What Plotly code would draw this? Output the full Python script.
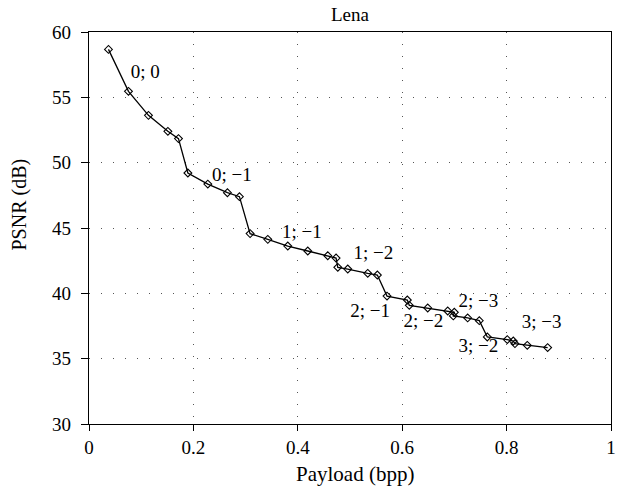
import plotly.graph_objects as go

payload = [0.0373, 0.0756, 0.1139, 0.1511, 0.1714, 0.1894, 0.2276, 0.2652, 0.2882,
           0.3086, 0.3425, 0.3808, 0.4191, 0.4574, 0.4733, 0.4766, 0.4957, 0.5340,
           0.5524, 0.5709, 0.6098, 0.6136, 0.6489, 0.6872, 0.6998, 0.6979, 0.7254,
           0.7477, 0.7630, 0.8013, 0.8128, 0.8160, 0.8396, 0.8786]
psnr = [58.67, 55.46, 53.62, 52.40, 51.84, 49.21, 48.36, 47.70, 47.40,
        44.57, 44.13, 43.62, 43.24, 42.88, 42.70, 41.99, 41.86, 41.53,
        41.40, 39.79, 39.49, 39.08, 38.88, 38.65, 38.55, 38.27, 38.12,
        37.91, 36.66, 36.46, 36.35, 36.15, 36.02, 35.85]

label_text = ["0; 0", "0; \u22121", "1; \u22121", "1; \u22122",
              "2; \u22121", "2; \u22122", "2; \u22123", "3; \u22122", "3; \u22123"]
label_x = [0.1076, 0.2736, 0.4076, 0.5447, 0.5384, 0.6405, 0.7458, 0.7458, 0.8671]
label_y = [56.81, 48.97, 44.57, 42.98, 38.57, 37.80, 39.29, 35.89, 37.68]

x_ticks = [0, 0.2, 0.4, 0.6, 0.8, 1]
x_tick_labels = ["0", "0.2", "0.4", "0.6", "0.8", "1"]
y_ticks = [30, 35, 40, 45, 50, 55, 60]

FONT = "Liberation Serif"
W, H = 632, 494
L, R, T, B = 89, 21, 32, 70
pw, ph = W - L - R, H - T - B

fig = go.Figure()
fig.add_trace(go.Scatter(
    x=payload, y=psnr, mode="lines+markers",
    line=dict(color="black", width=1.3),
    marker=dict(symbol="diamond-open", size=6, color="black", line=dict(width=1.1, color="black")),
    showlegend=False,
))
fig.add_trace(go.Scatter(
    x=label_x, y=label_y, mode="text", text=label_text,
    textfont=dict(family=FONT, size=19, color="black"),
    showlegend=False, hoverinfo="skip",
))

def px_x(p):
    return (p - L) / pw

def px_y(p):
    return (H - B - p) / ph

fig.update_layout(
    width=W, height=H,
    margin=dict(l=L, r=R, t=T, b=B),
    paper_bgcolor="white", plot_bgcolor="white",
    font=dict(family=FONT, size=19, color="black"),
    title=dict(text="Lena", x=0.5, xref="paper", xanchor="center",
               y=1 - 14.5 / H, yref="container", yanchor="middle",
               font=dict(family=FONT, size=19, color="black")),
    annotations=[
        dict(text="Payload (bpp)", xref="paper", yref="paper",
             x=px_x(355), y=px_y(474), xanchor="center", yanchor="middle",
             showarrow=False, font=dict(family=FONT, size=21, color="black")),
        dict(text="PSNR (dB)", xref="paper", yref="paper", textangle=-90,
             x=px_x(19), y=px_y(204.5), xanchor="center", yanchor="middle",
             showarrow=False, font=dict(family=FONT, size=20, color="black")),
    ],
)
fig.update_xaxes(
    range=[0, 1], tickvals=x_ticks, ticktext=x_tick_labels,
    showline=True, linecolor="black", linewidth=1.4, mirror=True,
    ticks="outside", ticklen=6, tickcolor="black", tickwidth=1.2,
    tickfont=dict(family=FONT, size=19),
    showgrid=True, gridcolor="#555555", gridwidth=1, griddash="1px,11px",
    zeroline=False,
)
fig.update_yaxes(
    range=[30, 60], tickvals=y_ticks,
    showline=True, linecolor="black", linewidth=1.4, mirror=True,
    ticks="outside", ticklen=7, tickcolor="black", tickwidth=1.2,
    tickfont=dict(family=FONT, size=19), ticklabelstandoff=6,
    showgrid=True, gridcolor="#555555", gridwidth=1, griddash="1px,11px",
    zeroline=False,
)

fig.write_html("out.html", config={"displayModeBar": False},
               post_script="document.body.style.margin='0';")
